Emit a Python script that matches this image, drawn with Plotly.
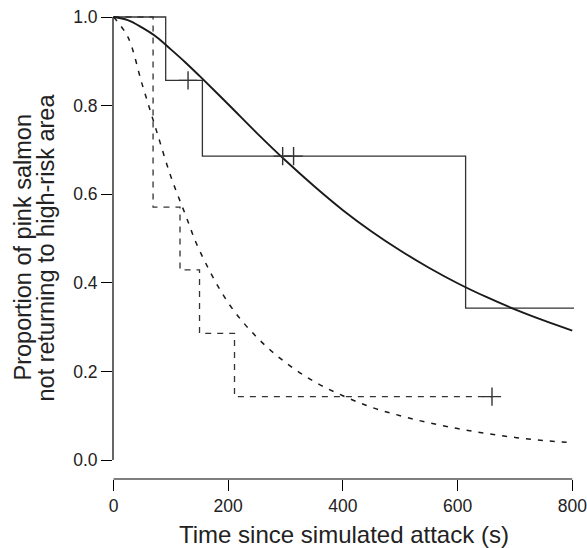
import plotly.graph_objects as go

# Kaplan-Meier steps (group 1: solid, group 2: dashed)
km1_time = [0, 91, 155, 614, 805]
km1_surv = [1.0, 0.857, 0.686, 0.343, 0.343]
cens1_time = [130, 295, 314, 805]
cens1_surv = [0.857, 0.686, 0.686, 0.343]

km2_time = [0, 69, 116, 150, 211, 660]
km2_surv = [1.0, 0.571, 0.429, 0.286, 0.143, 0.143]
cens2_time = [660]
cens2_surv = [0.143]

# Fitted smooth curves
fit_time = [0, 25, 50, 75, 100, 125, 150, 200, 250, 300, 350, 400, 450, 500,
            550, 600, 650, 700, 750, 800]
fit1_surv = [1.0, 0.993, 0.976, 0.955, 0.927, 0.898, 0.867, 0.803, 0.738, 0.676,
             0.618, 0.564, 0.516, 0.473, 0.434, 0.399, 0.368, 0.340, 0.315, 0.292]
fit2_surv = [1.0, 0.955, 0.848, 0.743, 0.640, 0.555, 0.473, 0.355, 0.277, 0.220,
             0.177, 0.145, 0.119, 0.100, 0.084, 0.071, 0.060, 0.051, 0.044, 0.039]

x_ticks = [0, 200, 400, 600, 800]
y_ticks = [0.0, 0.2, 0.4, 0.6, 0.8, 1.0]

INK = "#1a1a1a"
STEP = "#333333"

fig = go.Figure()
fig.add_trace(go.Scatter(x=km1_time, y=km1_surv, mode="lines", line_shape="hv",
                         line=dict(color=STEP, width=1.3), cliponaxis=False))
fig.add_trace(go.Scatter(x=km2_time, y=km2_surv, mode="lines", line_shape="hv",
                         line=dict(color=STEP, width=1.3, dash="6px,6px"), cliponaxis=False))
fig.add_trace(go.Scatter(x=fit_time, y=fit1_surv, mode="lines", line_shape="spline",
                         line=dict(color=INK, width=1.9), cliponaxis=False))
fig.add_trace(go.Scatter(x=fit_time, y=fit2_surv, mode="lines", line_shape="spline",
                         line=dict(color=INK, width=1.5, dash="5px,7px"), cliponaxis=False))
fig.add_trace(go.Scatter(x=cens1_time, y=cens1_surv, mode="markers", cliponaxis=False,
                         marker=dict(symbol="cross-thin", size=13,
                                     line=dict(color=STEP, width=1.4))))
fig.add_trace(go.Scatter(x=cens2_time, y=cens2_surv, mode="markers", cliponaxis=False,
                         marker=dict(symbol="cross-thin", size=13,
                                     line=dict(color=STEP, width=1.4))))

# R-style detached axis lines
fig.add_shape(type="line", xref="paper", yref="y", x0=0, x1=0, y0=0, y1=1,
              line=dict(color="black", width=1.2))
fig.add_shape(type="line", xref="x", yref="paper", x0=0, x1=800, y0=0, y1=0,
              line=dict(color="black", width=1.2))

font = "Liberation Sans, Arial, sans-serif"
fig.update_layout(
    width=587, height=548,
    margin=dict(l=113, r=13, t=16, b=69),
    paper_bgcolor="white", plot_bgcolor="white",
    showlegend=False,
    font=dict(family=font, color="#222", size=16),
    xaxis=dict(range=[-0.87, 803], showgrid=False, zeroline=False, showline=False,
               automargin=False, ticklabeloverflow="allow",
               tickvals=x_ticks, ticktext=[str(v) for v in x_ticks],
               ticks="outside", ticklen=11, tickwidth=1.2, tickcolor="black",
               tickfont=dict(size=17.5, color="#222")),
    yaxis=dict(range=[-0.0429, 1.0023], showgrid=False, zeroline=False, showline=False,
               automargin=False, ticklabeloverflow="allow",
               tickvals=y_ticks, ticktext=["%.1f" % v for v in y_ticks],
               ticks="outside", ticklen=11, tickwidth=1.2, tickcolor="black",
               tickfont=dict(size=17.5, color="#222")),
    annotations=[
        dict(text="Time since simulated attack (s)", xref="paper", yref="paper",
             x=0.5, y=-0.12, xanchor="center", yanchor="middle", showarrow=False,
             font=dict(size=24, color="#222")),
        dict(text="Proportion of pink salmon", xref="paper", yref="paper",
             x=(22 - 113) / 461, y=0.5, xanchor="center", yanchor="middle",
             textangle=-90, showarrow=False, font=dict(size=23.5, color="#222")),
        dict(text="not returning to high-risk area", xref="paper", yref="paper",
             x=(45 - 113) / 461, y=0.5, xanchor="center", yanchor="middle",
             textangle=-90, showarrow=False, font=dict(size=23.5, color="#222")),
    ],
)

fig.write_html("out.html", config={"displayModeBar": False},
               post_script="document.body.style.margin='0';document.body.style.overflow='hidden';")
